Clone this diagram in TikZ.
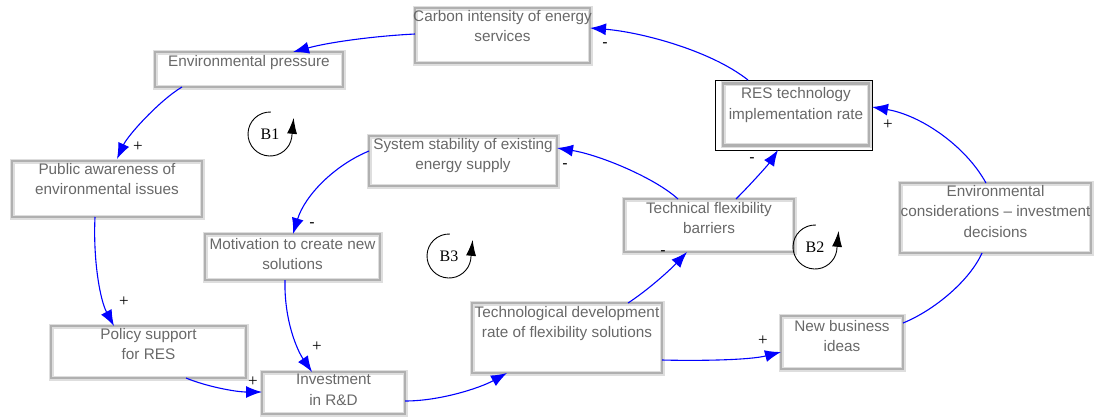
\documentclass[tikz,border=0pt]{standalone}
\usepackage{fontspec}
\setmainfont{Liberation Sans}
\newfontfamily\loopfont{Liberation Serif}
\usetikzlibrary{arrows.meta}
\definecolor{labelgray}{RGB}{104,104,104}
\definecolor{boxgray}{RGB}{176,176,176}
\definecolor{boxhaze}{RGB}{222,222,222}
\definecolor{linkblue}{RGB}{0,0,255}

\begin{document}
\begin{tikzpicture}[x=1pt,y=-1pt,
  box/.style={draw=boxgray, line width=2.6pt, rectangle, inner sep=0pt, outer sep=0pt,
    preaction={draw=boxhaze, line width=5pt}},
  frame/.style={draw=black, line width=1pt, rectangle, inner sep=0pt, outer sep=0pt},
  boxtext/.style={anchor=north, inner sep=0pt, align=center, text=labelgray,
    font=\fontsize{15.3}{20.5}\selectfont},
  link/.style={draw=linkblue, line width=1.1pt, -{Latex[length=16pt,width=12pt]}},
  plainlink/.style={draw=linkblue, line width=1.1pt},
  sign/.style={inner sep=0pt, font=\fontsize{16}{16}\selectfont},
  plus/.style={inner sep=0pt, font=\loopfont\fontsize{17}{17}\selectfont},
  loopname/.style={inner sep=0pt, font=\loopfont\fontsize{16}{16}\selectfont},
  loopcirc/.style={draw=black, line width=0.9pt, -{Latex[length=16pt,width=10pt]}}
]
\useasboundingbox (0,0) rectangle (1094,416);

% variable boxes
\node[box, minimum width=175pt, minimum height=55pt] (carbon) at (502.5,35.5) {};
\node[box, minimum width=188pt, minimum height=35pt] (envp) at (249,69.5) {};
\node[box, minimum width=190pt, minimum height=56pt] (public) at (107,189) {};
\node[box, minimum width=188pt, minimum height=50pt] (sys) at (463,161) {};
\node[frame, minimum width=157pt, minimum height=70pt] (res) at (793.5,115) {};
\node[box, minimum width=146pt, minimum height=62pt] (resin) at (796,114.5) {};
\node[box, minimum width=175pt, minimum height=46pt] (motiv) at (292.5,257) {};
\node[box, minimum width=170pt, minimum height=53pt] (techflex) at (709,225.5) {};
\node[box, minimum width=191pt, minimum height=70pt] (envcons) at (995.5,218) {};
\node[box, minimum width=195pt, minimum height=52pt] (policy) at (148.5,352) {};
\node[box, minimum width=143pt, minimum height=42pt] (invest) at (333.5,393) {};
\node[box, minimum width=190pt, minimum height=70pt] (techdev) at (567,338) {};
\node[box, minimum width=122pt, minimum height=53pt] (newbiz) at (842,342.5) {};

% box texts
\node[boxtext] (carbon-t) at ([yshift=-2pt]carbon.north) {Carbon intensity of energy\\services};
\node[boxtext] (envp-t) at ([yshift=-3pt]envp.north) {Environmental pressure};
\node[boxtext] (public-t) at ([yshift=-2pt]public.north) {Public awareness of\\environmental issues};
\node[boxtext] (sys-t) at ([yshift=-2pt]sys.north) {System stability of existing\\energy supply};
\node[boxtext] (res-t) at ([yshift=-4pt]resin.north) {RES technology\\implementation rate};
\node[boxtext] (motiv-t) at ([yshift=-4pt]motiv.north) {Motivation to create new\\solutions};
\node[boxtext] (techflex-t) at ([yshift=-3pt]techflex.north) {Technical flexibility\\barriers};
\node[boxtext] (envcons-t) at ([yshift=-2pt]envcons.north) {Environmental\\considerations -- investment\\decisions};
\node[boxtext] (policy-t) at ([yshift=-2pt]policy.north) {Policy support\\for RES};
\node[boxtext] (invest-t) at ([yshift=-2pt]invest.north) {Investment\\in R\&D};
\node[boxtext] (techdev-t) at ([yshift=-3pt]techdev.north) {Technological development\\rate of flexibility solutions};
\node[boxtext] (newbiz-t) at ([yshift=-4pt]newbiz.north) {New business\\ideas};

% causal links
\draw[link] ([xshift=-45.5pt]res.north) .. controls (710,50) and (640,32) .. ([yshift=7.5pt]carbon.east);
\draw[link] ([yshift=1.5pt]carbon.west) .. controls (375,36) and (330,42) .. ([xshift=44pt]envp.north);
\draw[link] ([xshift=-67pt]envp.south) .. controls (160,100) and (128,135) .. ([xshift=10pt,yshift=2pt]public.north);
\draw[link] ([xshift=-12pt]public.south) .. controls (93,260) and (100,300) .. ([xshift=-34.5pt]policy.north);
\draw[link] ([xshift=37.5pt]policy.south) .. controls (205,386) and (235,392) .. ([yshift=1pt]invest.west);
\draw[link] ([yshift=10pt]sys.west) .. controls (335,165) and (305,195) .. ([xshift=0.5pt]motiv.north);
\draw[link] ([xshift=-7.5pt]motiv.south) .. controls (284,320) and (297,350) .. ([xshift=-21.5pt]invest.north);
\draw[link] ([yshift=-8pt]invest.east) .. controls (440,401) and (480,388) .. ([xshift=-60pt]techdev.south);
\draw[link] ([xshift=61pt]techdev.north) .. controls (648,290) and (670,270) .. ([xshift=-22pt]techflex.south);
\draw[link] ([xshift=-31pt]techflex.north) .. controls (655,178) and (600,155) .. ([yshift=13pt]sys.east);
\draw[link] ([xshift=27pt]techflex.north) .. controls (750,185) and (768,165) .. ([xshift=-15.5pt]res.south);
\draw[link] ([xshift=-9.5pt]envcons.north) .. controls (965,145) and (920,115) .. ([yshift=8pt]res.east);
\draw[plainlink] ([yshift=19.5pt]newbiz.east) .. controls (935,310) and (970,280) .. ([xshift=-13.5pt]envcons.south);
\draw[link] ([yshift=-22pt]techdev.east) .. controls (700,361) and (750,360) .. ([yshift=-9.5pt]newbiz.west);

% link polarities
\node[sign] (s-a) at (605,45) {-};
\node[plus] (s-c) at (138,147) {+};
\node[plus] (s-d) at (124,302) {+};
\node[plus] (s-e) at (253,382) {+};
\node[sign] (s-f) at (312,225) {-};
\node[plus] (s-g) at (317,347) {+};
\node[sign] (s-i) at (663,253) {-};
\node[sign] (s-j) at (565,166) {-};
\node[sign] (s-k) at (752,160) {-};
\node[plus] (s-l) at (888,125) {+};
\node[plus] (s-n) at (763,341) {+};

% balancing loop markers
\foreach \cx/\cy/\name in {270/134/B1, 449/256/B3, 815/247/B2}{
  \draw[loopcirc] (\cx,\cy) ++(272:22) arc[start angle=272, end angle=10, radius=22] -- ++(2,-20);
  \node[loopname] (loop-\name) at (\cx,\cy) {\name};
}
\end{tikzpicture}
\end{document}
